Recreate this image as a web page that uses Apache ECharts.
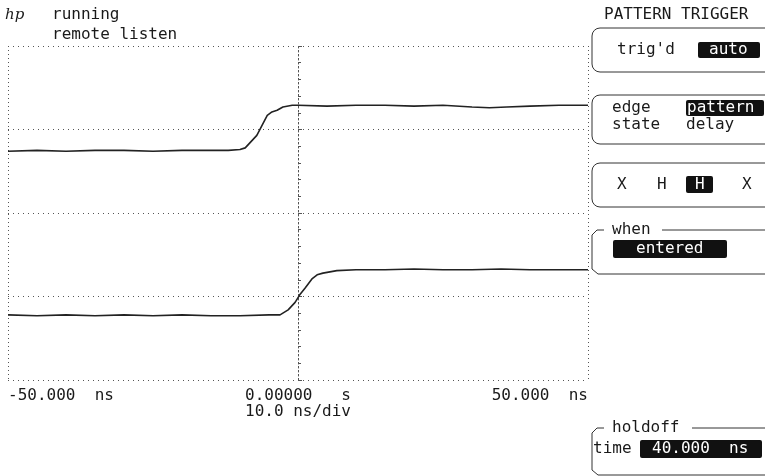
<!DOCTYPE html>
<html>
<head>
<meta charset="utf-8">
<style>
  html, body { margin: 0; padding: 0; background: #fff; }
  #chart { width: 765px; height: 476px; }
</style>
<script src="https://cdn.jsdelivr.net/npm/echarts@6/dist/echarts.min.js"></script>
</head>
<body>
<div id="chart"></div>
<script>
// time in ns, level in screen divisions (0 = bottom of graticule, 4 = top)
var ch1Time = [-50, -45, -40, -35, -30, -25, -20, -15, -12, -10, -9.1, -8.3, -7.1, -6.2, -5.3, -4.5, -3.6, -2.6, -1, 0, 5, 10, 15, 20, 25, 30, 33, 36, 40, 45, 50];
var ch1Level = [2.74, 2.75, 2.74, 2.75, 2.75, 2.74, 2.75, 2.75, 2.75, 2.76, 2.78, 2.84, 2.93, 3.05, 3.17, 3.21, 3.23, 3.27, 3.29, 3.29, 3.28, 3.29, 3.29, 3.28, 3.29, 3.27, 3.26, 3.27, 3.28, 3.29, 3.29];
var ch2Time = [-50, -45, -40, -35, -30, -25, -20, -15, -10, -5, -3.1, -1.7, -0.5, 0.3, 1.2, 2.4, 3.3, 4.3, 6.7, 10, 15, 20, 25, 30, 35, 40, 45, 50];
var ch2Level = [0.78, 0.77, 0.78, 0.77, 0.78, 0.77, 0.78, 0.77, 0.77, 0.78, 0.78, 0.84, 0.93, 1.02, 1.10, 1.21, 1.26, 1.28, 1.31, 1.32, 1.32, 1.33, 1.32, 1.32, 1.33, 1.32, 1.32, 1.32];
var timeLabels = { '-50': '-50.000  ns', '0': '0.00000   s\n10.0 ns/div', '50': '50.000  ns' };

var mono = 'DejaVu Sans Mono';
var ink = '#1a1a1a';
var grat = '#555';

function pair(t, v) { return t.map(function (x, i) { return [x, v[i]]; }); }
function txt(x, y, s, opt) {
  opt = opt || {};
  return { type: 'text', x: x, y: y, style: { text: s, font: (opt.size || 16) + 'px "' + mono + '"', fill: opt.fill || ink, textAlign: opt.align || 'left', textVerticalAlign: 'middle' } };
}
function inv(x, y, w, h, s, tx) {
  return [
    { type: 'rect', shape: { x: x, y: y, width: w, height: h, r: 2 }, style: { fill: '#111' } },
    txt(tx, y + h / 2, s, { fill: '#fff', align: 'left' })
  ];
}
function box(y, h) {
  return { type: 'rect', shape: { x: 592, y: y, width: 190, height: h, r: [8, 0, 0, 8] }, style: { fill: null, stroke: '#333', lineWidth: 1 } };
}
function labelBox(y, h, lineFrom) {
  return { type: 'polyline', shape: { points: [[604, y], [597, y], [592, y + 5], [592, y + h - 5], [598, y + h], [770, y + h]] }, style: { stroke: '#333', lineWidth: 1, fill: null } };
}

var graphics = [
  { type: 'text', x: 5, y: 15, style: { text: 'hp', font: 'italic 15px "DejaVu Serif"', fill: ink, textVerticalAlign: 'middle' } },
  txt(52, 15, 'running'),
  txt(52, 35, 'remote listen'),
  txt(604, 15, 'PATTERN TRIGGER'),
  box(28, 44), txt(617, 50, "trig'd"),
  box(95, 49), txt(612, 108, 'edge'), txt(612, 125, 'state'), txt(686, 125, 'delay'),
  box(163, 44), txt(617, 185, 'X'), txt(657, 185, 'H'), txt(742, 185, 'X'),
  labelBox(230, 44), txt(612, 230, 'when'),
  { type: 'line', shape: { x1: 662, y1: 230, x2: 770, y2: 230 }, style: { stroke: '#333', lineWidth: 1 } },
  labelBox(428, 47), txt(612, 428, 'holdoff'),
  { type: 'line', shape: { x1: 692, y1: 428, x2: 770, y2: 428 }, style: { stroke: '#333', lineWidth: 1 } },
  txt(593, 449, 'time')
].concat(inv(698, 42, 62, 16, 'auto', 709))
 .concat(inv(686, 100, 78, 16, 'pattern', 687))
 .concat(inv(686, 176, 27, 17, 'H', 695))
 .concat(inv(613, 240, 114, 18, 'entered', 636))
 .concat(inv(640, 440, 122, 18, '40.000  ns', 652));

var chart = echarts.init(document.getElementById('chart'), null, { renderer: 'canvas' });
chart.setOption({
  animation: false,
  backgroundColor: '#fff',
  grid: { left: 8, right: 177, top: 46, bottom: 96 },
  xAxis: {
    type: 'value', min: -50, max: 50, interval: 50,
    axisLine: { show: false }, axisTick: { show: false },
    splitLine: { show: true, lineStyle: { color: grat, type: [1, 3], width: 1 } },
    axisLabel: {
      color: ink, fontFamily: mono, fontSize: 16, lineHeight: 16, margin: 8,
      alignMinLabel: 'left', alignMaxLabel: 'right',
      formatter: function (v) { return timeLabels[String(v)] || ''; }
    }
  },
  yAxis: {
    type: 'value', min: 0, max: 4, interval: 1,
    axisLabel: { show: false },
    axisLine: { show: true, onZero: true, lineStyle: { color: grat, type: [1, 3] } },
    axisTick: { show: true, inside: true, length: 4, lineStyle: { color: grat } },
    minorTick: { show: true, splitNumber: 5, length: 3, lineStyle: { color: grat } },
    splitLine: { show: true, lineStyle: { color: grat, type: [1, 4], width: 1 } }
  },
  series: [
    { type: 'line', data: pair(ch1Time, ch1Level), showSymbol: false, lineStyle: { color: '#222', width: 1.6 } },
    { type: 'line', data: pair(ch2Time, ch2Level), showSymbol: false, lineStyle: { color: '#222', width: 1.6 } }
  ],
  graphic: graphics
});
</script>
</body>
</html>
